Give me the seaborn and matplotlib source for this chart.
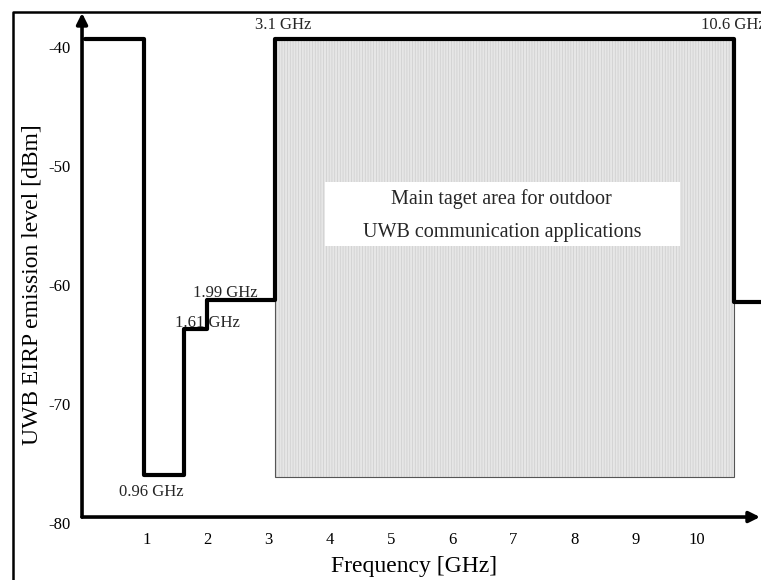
import matplotlib
matplotlib.use("Agg")
import matplotlib.pyplot as plt
from matplotlib.lines import Line2D
from matplotlib.patches import Rectangle
import numpy as np
import pandas as pd
import seaborn as sns

# Step mask: frequency break points [GHz] and the EIRP level held from each one [dBm]
freq_breaks = [0.0, 0.96, 1.61, 1.99, 3.1, 10.6, 11.2]
eirp_levels = [-39.35, -76.0, -63.7, -61.3, -39.35, -61.4, -61.4]

# Shaded target band
band_start, band_end = 3.1, 10.6
band_floor, band_ceiling = -76.1, -39.35

# Axis ticks
x_ticks = [1, 2, 3, 4, 5, 6, 7, 8, 9, 10]
y_ticks = [-40, -50, -60, -70, -80]

band_text = ["Main taget area for outdoor", "UWB communication applications"]

sns.set_theme(style="white")
plt.rcParams["font.family"] = ["Liberation Serif", "DejaVu Serif"]
plt.rcParams["hatch.linewidth"] = 0.5

fig = plt.figure(figsize=(7.61, 5.80), dpi=100)
ax = fig.add_axes([80 / 761, 1 - 530 / 580, 681 / 761, 518 / 580])
ax.set_xlim(-0.082, 11.046)
ax.set_ylim(-80.59, -37.06)
for s in ax.spines.values():
    s.set_visible(False)
ax.set_facecolor("none")

# Shaded band: striped fill, then a thin outline on top
band_w = band_end - band_start
band_h = band_ceiling - band_floor
ax.add_patch(Rectangle((band_start, band_floor), band_w, band_h,
                       facecolor="#e6e6e6", edgecolor="#cdcdcd", lw=0,
                       hatch="||||||", zorder=1))
ax.add_patch(Rectangle((band_start, band_floor), band_w, band_h,
                       facecolor="none", edgecolor="#555555", lw=0.8, zorder=1.5))

# White caption box inside the band
ax.add_patch(Rectangle((3.92, -56.72), 9.72 - 3.92, 5.38,
                       facecolor="white", edgecolor="none", zorder=2))
ax.text(6.81, -52.77, band_text[0], ha="center", va="center", fontsize=14.5, zorder=3)
ax.text(6.81, -55.63, band_text[1], ha="center", va="center", fontsize=14.5, zorder=3)

# Emission mask
mask = pd.DataFrame({"freq": freq_breaks, "eirp": eirp_levels})
sns.lineplot(data=mask, x="freq", y="eirp", drawstyle="steps-post",
             estimator=None, color="black", lw=3, ax=ax, zorder=4)

# Frequency annotations at the breaks
lbl = dict(fontsize=12, ha="left", va="center", zorder=5, clip_on=False)
ax.text(0.556, -77.4, f"{freq_breaks[1]} GHz", **lbl)
ax.text(1.47, -63.19, f"{freq_breaks[2]} GHz", **lbl)
ax.text(1.765, -60.65, f"{freq_breaks[3]} GHz", **lbl)
ax.text(2.78, -38.15, f"{freq_breaks[4]} GHz", **lbl)
ax.text(10.07, -38.15, f"{freq_breaks[5]} GHz", **lbl)

# Axes drawn as arrows
arrow = dict(arrowstyle="-|>", color="black", lw=2.6, mutation_scale=16,
             shrinkA=0, shrinkB=0)
ax.annotate("", xy=(11.03, -79.5), xytext=(-0.049, -79.5),
            arrowprops=arrow, annotation_clip=False, zorder=6)
ax.annotate("", xy=(-0.049, -37.14), xytext=(-0.049, -79.5),
            arrowprops=arrow, annotation_clip=False, zorder=6)

ax.set_xticks(x_ticks)
ax.set_xticklabels([str(t) for t in x_ticks])
ax.set_yticks(y_ticks)
ax.set_yticklabels([str(t) for t in y_ticks])
ax.tick_params(axis="x", length=0, pad=1.5, labelsize=12, colors="black")
ax.tick_params(axis="y", length=0, pad=7, labelsize=12, colors="black")

ax.set_xlabel("Frequency [GHz]", fontsize=17, color="black")
ax.xaxis.label.set_va("center")
ax.xaxis.set_label_coords(0.4905, -0.0695)
ax.set_ylabel("UWB EIRP emission level [dBm]", fontsize=17, color="black")
ax.yaxis.label.set_va("center")
ax.yaxis.set_label_coords(-0.071, 0.473)

# Outer frame (top and left edges)
fig.add_artist(Line2D([13 / 761, 13 / 761, 1.0], [0.0, 1 - 12 / 580, 1 - 12 / 580],
                      color="black", lw=1.8, transform=fig.transFigure))

fig.savefig("out.png", dpi=100)
